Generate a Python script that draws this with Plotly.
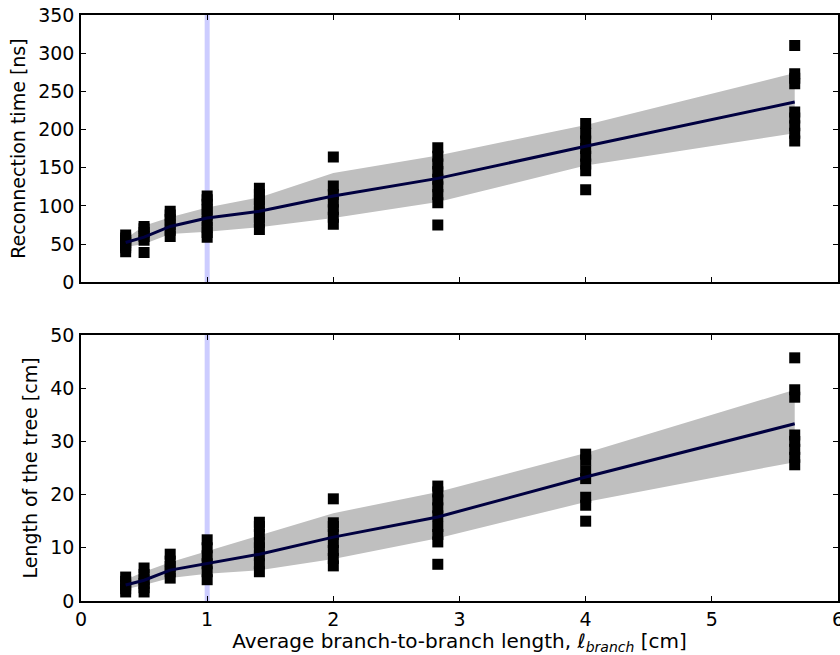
import plotly.graph_objects as go
from plotly.subplots import make_subplots

# branch lengths (cm)
branch = [0.354, 0.5, 0.707, 1.0, 1.414, 2.0, 2.828, 4.0, 5.657]

# Reconnection time (ns)
time_mean = [52, 59, 73, 84, 93, 113, 136, 178, 236]
time_upper = [57, 74, 85, 98, 111, 143, 166, 206, 274]
time_lower = [46, 50, 63, 66, 72, 84, 105, 153, 195]
time_points = [
    [40, 45, 48, 52, 55, 58, 62],
    [39, 55, 60, 65, 70, 73],
    [60, 68, 75, 82, 88, 93],
    [59, 65, 72, 80, 88, 95, 102, 108, 113],
    [69, 78, 85, 92, 100, 108, 115, 123],
    [76, 85, 95, 105, 115, 126, 164],
    [75, 104, 115, 125, 135, 145, 155, 165, 176],
    [121, 146, 155, 165, 175, 185, 195, 208],
    [185, 195, 205, 215, 223, 260, 267, 273, 310],
]

# Length of the tree (cm)
len_mean = [3.0, 3.9, 5.8, 7.1, 8.8, 12.0, 15.8, 23.3, 33.3]
len_upper = [4.0, 5.5, 7.3, 9.4, 12.4, 16.5, 20.5, 27.8, 39.7]
len_lower = [2.2, 3.0, 4.3, 5.1, 5.8, 7.9, 11.8, 18.6, 26.1]
len_points = [
    [1.7, 2.3, 3.0, 3.7, 4.5],
    [1.7, 2.5, 3.3, 4.0, 5.0, 6.2],
    [4.3, 5.5, 6.5, 7.5, 8.8],
    [4.0, 5.5, 7.0, 8.5, 10.0, 11.5],
    [5.5, 7.0, 8.5, 10.0, 11.0, 12.5, 14.0, 14.8],
    [6.6, 8.0, 9.5, 11.0, 12.5, 14.0, 14.7, 19.2],
    [6.9, 11.1, 12.5, 14.0, 16.0, 17.5, 19.0, 20.5, 21.6],
    [15.0, 18.0, 19.5, 23.0, 24.5, 26.5, 27.6],
    [25.6, 27.0, 28.5, 30.0, 31.2, 38.3, 39.7, 45.7],
]

highlight_x = 1.0

x_ticks = [0, 1, 2, 3, 4, 5, 6]
time_ticks = [0, 50, 100, 150, 200, 250, 300, 350]
len_ticks = [0, 10, 20, 30, 40, 50]

FONT = "DejaVu Sans"
TICK_SIZE = 19
TITLE_SIZE = 19
XTITLE_SIZE = 20

fig = make_subplots(rows=2, cols=1, shared_xaxes=False, vertical_spacing=0.09)

def add_panel(row, mean, upper, lower, pts):
    fig.add_trace(go.Scatter(x=branch, y=upper, mode="lines", line=dict(width=0, color="#bfbfbf"),
                             showlegend=False, hoverinfo="skip"), row=row, col=1)
    fig.add_trace(go.Scatter(x=branch, y=lower, mode="lines", line=dict(width=0, color="#bfbfbf"),
                             fill="tonexty", fillcolor="#bfbfbf", showlegend=False, hoverinfo="skip"),
                  row=row, col=1)
    xs, ys = [], []
    for bx, vals in zip(branch, pts):
        for v in vals:
            xs.append(bx)
            ys.append(v)
    fig.add_trace(go.Scatter(x=xs, y=ys, mode="markers",
                             marker=dict(symbol="square", size=11, color="black", line=dict(width=0)),
                             showlegend=False), row=row, col=1)
    fig.add_trace(go.Scatter(x=branch, y=mean, mode="lines", line=dict(color="#000040", width=3),
                             showlegend=False), row=row, col=1)

add_panel(1, time_mean, time_upper, time_lower, time_points)
add_panel(2, len_mean, len_upper, len_lower, len_points)

for r in (1, 2):
    fig.add_vline(x=highlight_x, line=dict(color="rgba(0,0,255,0.2)", width=5), layer="below", row=r, col=1)

axis_common = dict(showline=True, linecolor="black", linewidth=1.5, mirror="ticks", ticks="inside",
                   ticklen=5, tickwidth=1, tickcolor="black", showgrid=False, zeroline=False,
                   automargin=False, ticklabeloverflow="allow",
                   tickfont=dict(family=FONT, size=TICK_SIZE, color="black"))

fig.update_xaxes(range=[0, 6], tickvals=x_ticks, **axis_common)
fig.update_xaxes(showticklabels=False, row=1, col=1)
fig.update_xaxes(title=dict(text="Average branch-to-branch length, ℓ<sub><i>branch</i></sub> [cm]",
                            font=dict(family=FONT, size=XTITLE_SIZE, color="black"), standoff=1),
                 ticklabelstandoff=0, row=2, col=1)
fig.update_yaxes(ticklabelstandoff=1, **axis_common)
fig.update_yaxes(range=[0, 350], tickvals=time_ticks,
                 title=dict(text="Reconnection time [ns]", font=dict(family=FONT, size=TITLE_SIZE, color="black"),
                            standoff=8), row=1, col=1)
fig.update_yaxes(range=[0, 50], tickvals=len_ticks,
                 title=dict(text="Length of the tree [cm]", font=dict(family=FONT, size=TITLE_SIZE, color="black"),
                            standoff=8), row=2, col=1)

fig.update_layout(
    width=840, height=655,
    margin=dict(l=81, r=2, t=15, b=54),
    paper_bgcolor="white", plot_bgcolor="white",
    showlegend=False,
    xaxis=dict(domain=[0, 1]), xaxis2=dict(domain=[0, 1]),
    yaxis=dict(domain=[0.544, 1.0]), yaxis2=dict(domain=[0.0, 0.454]),
)

fig.write_html("out.html")
